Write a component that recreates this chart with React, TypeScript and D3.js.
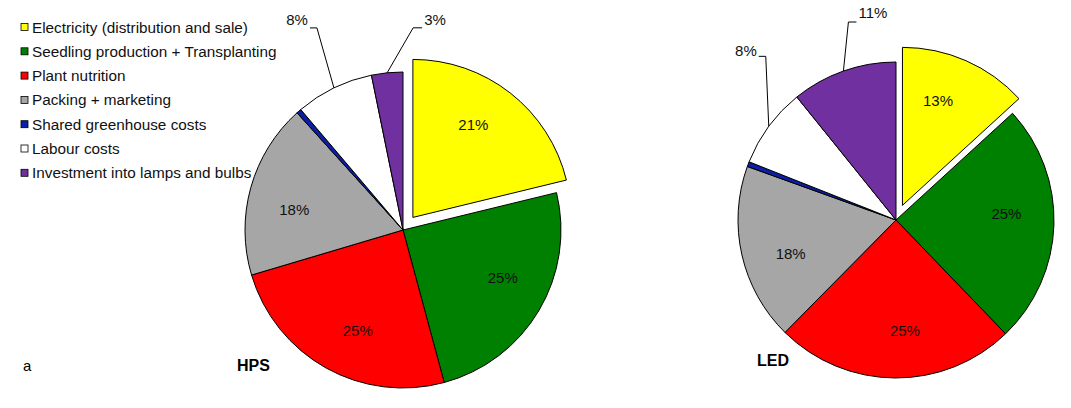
import React from "react";
import * as d3 from "d3";

const categories = [
  "Electricity (distribution and sale)",
  "Seedling production + Transplanting",
  "Plant nutrition",
  "Packing + marketing",
  "Shared greenhouse costs",
  "Labour costs",
  "Investment into lamps and bulbs",
];
const hpsValues = [21.2, 24.6, 24.6, 17.9, 0.5, 8.0, 3.2];
const ledValues = [13.2, 24.6, 24.6, 18.1, 0.5, 8.2, 10.8];
const pieNames = ["HPS", "LED"];
const panelLetter = "a";

const colors = ["#FFFF00", "#008000", "#FF0000", "#A6A6A6", "#0A1EA8", "#FFFFFF", "#7030A0"];
const insideLabelIdx = [0, 1, 2, 3];
const FONT = "'Liberation Sans', Arial, sans-serif";
const LABEL_ANGLE_SHIFT = (-5 * Math.PI) / 180;

type OutLabel = { dx: number; dy: number; h: number; ty: number };
const pieLayouts = [
  {
    values: hpsValues, cx: 403, cy: 230, r: 158, explode: 16,
    titleX: 237, titleY: 371,
    outside: { 5: { dx: -17, dy: -60, h: -7, ty: -3 }, 6: { dx: 26, dy: -45, h: 9, ty: -3 } } as Record<number, OutLabel>,
  },
  {
    values: ledValues, cx: 896, cy: 220, r: 158, explode: 16,
    titleX: 757, titleY: 366,
    outside: { 5: { dx: -3, dy: -70, h: -7, ty: 0 }, 6: { dx: 5, dy: -49, h: 8, ty: -4 } } as Record<number, OutLabel>,
  },
];

function Pie({ layout, name }: { layout: typeof pieLayouts[0]; name: string }) {
  const { values, cx, cy, r, explode, outside } = layout;
  const arcs = d3.pie<number>().sort(null).value((d) => d).startAngle(0).endAngle(2 * Math.PI)(values);
  const arc = d3.arc<d3.PieArcDatum<number>>().innerRadius(0).outerRadius(r);
  const labelArc = d3.arc<d3.PieArcDatum<number>>().innerRadius(r * 0.7).outerRadius(r * 0.7);
  return (
    <g>
      {arcs.map((a, i) => {
        const mid = (a.startAngle + a.endAngle) / 2;
        const off = i === 0 ? explode : 0;
        const ox = cx + off * Math.sin(mid);
        const oy = cy - off * Math.cos(mid);
        return (
          <path key={i} d={arc(a) || ""} transform={`translate(${ox},${oy})`} fill={colors[i]} stroke="#000" strokeWidth={1} />
        );
      })}
      {arcs.map((a, i) => {
        const mid = (a.startAngle + a.endAngle) / 2;
        const off = i === 0 ? explode : 0;
        const ox = cx + off * Math.sin(mid);
        const oy = cy - off * Math.cos(mid);
        if (insideLabelIdx.includes(i)) {
          const [lx, ly] = labelArc.centroid({ ...a, startAngle: a.startAngle + LABEL_ANGLE_SHIFT, endAngle: a.endAngle + LABEL_ANGLE_SHIFT });
          return (
            <text key={"l" + i} x={ox + lx} y={oy + ly} textAnchor="middle" dominantBaseline="central" fontSize={15} fontFamily={FONT} fill="#111">
              {Math.round(a.data)}%
            </text>
          );
        }
        const o = outside[i];
        if (!o) return null;
        const ex = cx + r * Math.sin(mid);
        const ey = cy - r * Math.cos(mid);
        const bx = ex + o.dx;
        const by = ey + o.dy;
        const hx = bx + o.h;
        return (
          <g key={"o" + i}>
            <polyline points={`${ex},${ey} ${bx},${by} ${hx},${by}`} fill="none" stroke="#000" strokeWidth={1} />
            <text x={hx + (o.h < 0 ? -2 : 2)} y={by + o.ty} textAnchor={o.h < 0 ? "end" : "start"} fontSize={15} fontFamily={FONT} fill="#111">
              {Math.round(a.data)}%
            </text>
          </g>
        );
      })}
      <text x={layout.titleX} y={layout.titleY} fontSize={16} fontWeight="bold" fontFamily={FONT} fill="#000">{name}</text>
    </g>
  );
}

export default function App() {
  const width = 1071, height = 408;
  return (
    <svg width={width} height={height} style={{ position: "absolute", left: 0, top: 0, background: "#fff" }}>
      <rect width={width} height={height} fill="#fff" />
      {pieLayouts.map((l, i) => (
        <Pie key={i} layout={l} name={pieNames[i]} />
      ))}
      <g>
        {categories.map((c, i) => (
          <g key={c} transform={`translate(21, ${27 + i * 24.3})`}>
            <rect x={0} y={-3.5} width={7} height={7} fill={colors[i]} stroke="#000" strokeWidth={0.8} />
            <text x={11} y={5.5} fontSize={15.3} fontFamily={FONT} fill="#111">{c}</text>
          </g>
        ))}
      </g>
      <text x={23} y={371} fontSize={15} fontFamily={FONT} fill="#000">{panelLetter}</text>
    </svg>
  );
}
